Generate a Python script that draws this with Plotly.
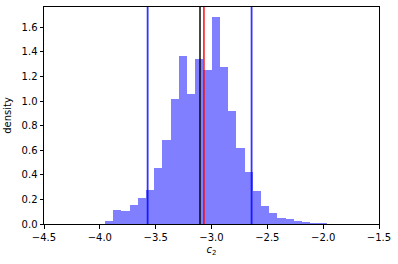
import numpy as np
import plotly.graph_objects as go

# histogram data
bin_start = -3.954
bin_end = -1.969
densities = [0.022, 0.116, 0.108, 0.157, 0.214, 0.279, 0.457, 0.685, 1.018, 1.367,
             1.059, 1.343, 1.254, 1.687, 1.278, 0.921, 0.620, 0.422, 0.268, 0.146,
             0.089, 0.049, 0.041, 0.024, 0.016, 0.008, 0.008]
# vertical reference lines
line_x = [-3.572, -3.103, -3.068, -2.641]
line_colors = ["rgba(0,0,255,0.8)", "rgba(0,0,0,0.8)", "rgba(255,0,0,0.8)", "rgba(0,0,255,0.8)"]
x_ticks = [-4.5, -4.0, -3.5, -3.0, -2.5, -2.0, -1.5]
y_ticks = [0.0, 0.2, 0.4, 0.6, 0.8, 1.0, 1.2, 1.4, 1.6]

edges = np.linspace(bin_start, bin_end, len(densities) + 1)
centers = (edges[:-1] + edges[1:]) / 2
width = edges[1] - edges[0]

fig = go.Figure()
fig.add_trace(go.Bar(x=centers, y=densities, width=width,
                     marker=dict(color="rgba(0,0,255,0.5)", line=dict(width=0)),
                     showlegend=False, hoverinfo="skip"))
for xv, c in zip(line_x, line_colors):
    fig.add_shape(type="line", x0=xv, x1=xv, y0=0, y1=1, xref="x", yref="paper",
                  line=dict(color=c, width=1.8))

axis_common = dict(showline=True, linecolor="black", linewidth=1, mirror=True,
                   ticks="outside", ticklen=3.5, tickwidth=1, tickcolor="black",
                   showgrid=False, zeroline=False, automargin=False,
                   tickfont=dict(family="DejaVu Sans", size=10, color="black"))
fig.update_xaxes(range=[-4.5, -1.5], tickvals=x_ticks,
                 ticktext=[f"\u2212{abs(v):.1f}" for v in x_ticks],
                 title=dict(text="<i>c</i><sub>2</sub>", standoff=4,
                            font=dict(family="DejaVu Sans", size=10, color="black")),
                 **axis_common)
fig.update_yaxes(range=[0, 1.765], tickvals=y_ticks,
                 ticktext=[f"{v:.1f}" for v in y_ticks],
                 title=dict(text="density", standoff=8,
                            font=dict(family="DejaVu Sans", size=10, color="black")),
                 **axis_common)
fig.update_layout(width=398, height=264, margin=dict(l=44, r=19, t=7, b=40),
                  plot_bgcolor="white", paper_bgcolor="white", bargap=0)
fig.write_html("out.html", config={"displayModeBar": False, "staticPlot": True},
               post_script="document.body.style.margin='0';document.body.style.overflow='hidden';")
